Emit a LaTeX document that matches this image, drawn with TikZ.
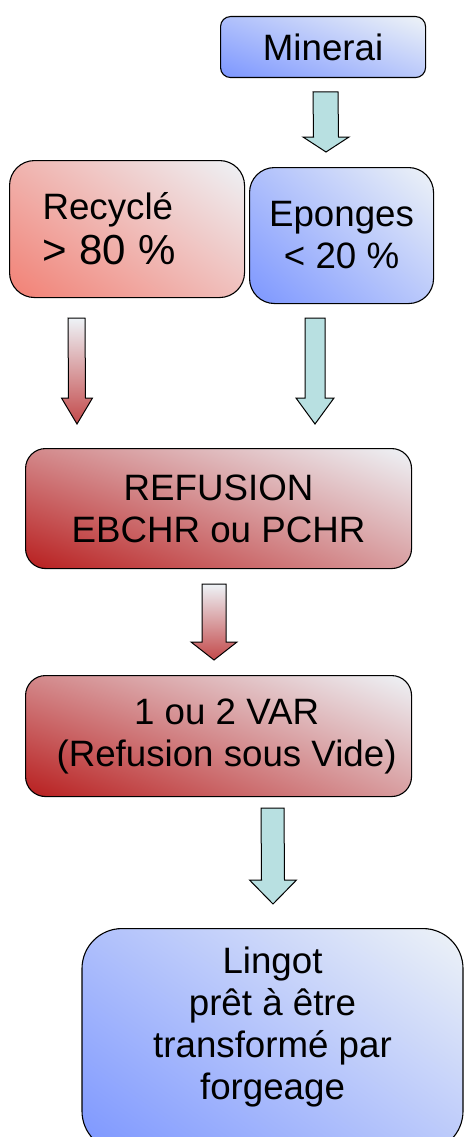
\documentclass[tikz,border=0pt]{standalone}
\usepackage{fontspec}
\setmainfont{Liberation Sans}
\usetikzlibrary{calc,shadings}

\definecolor{bleuF}{RGB}{124,150,255}
\definecolor{bleuC}{RGB}{238,243,247}
\definecolor{roseF}{RGB}{242,128,116}
\definecolor{rougeF}{RGB}{184,30,30}
\definecolor{turquoise}{RGB}{184,224,225}

\tikzset{
  boite/.style={draw=black, line width=1.1pt, rounded corners=#1, align=center,
    inner sep=0pt, font=\fontsize{36.7}{42}\selectfont},
  boite/.default=20pt,
  bleu/.style={lower left=bleuF, upper right=bleuC, upper left=bleuF!55!bleuC, lower right=bleuF!45!bleuC},
  rose/.style={lower left=roseF, upper right=bleuC, upper left=roseF!55!bleuC, lower right=roseF!45!bleuC},
  rouge/.style={lower left=rougeF, upper right=bleuC, upper left=rougeF!50!bleuC, lower right=rougeF!40!bleuC},
  flecheT/.style={draw=black, line width=1pt, fill=turquoise},
  flecheR/.style={draw=black, line width=1pt, top color=bleuC, bottom color=rougeF!80!bleuC}
}

% fleche pleine : style, depart, pointe, demi-corps, demi-tete, longueur tete
\newcommand{\blocarrow}[6]{%
  \draw[#1] ($(#2)+(-#4,0)$) -- ($(#3)+(-#4,-#6)$) -- ($(#3)+(-#5,-#6)$) -- (#3)
    -- ($(#3)+(#5,-#6)$) -- ($(#3)+(#4,-#6)$) -- ($(#2)+(#4,0)$) -- cycle;}

\begin{document}
\begin{tikzpicture}[x=1pt, y=-1pt]
  \useasboundingbox (0,0) rectangle (464,1137);

  \node[boite=10pt, bleu, anchor=north west, minimum width=205pt, minimum height=61pt] (minerai) at (220,16) {Minerai};

  \node[boite=25pt, rose, anchor=north west, minimum width=235pt, minimum height=137pt,
        text width=169pt, align=left] (recycle) at (9,160) {Recyclé\\[3pt]{\fontsize{42}{46}\selectfont > 80 \%}};
  \node[boite=25pt, bleu, anchor=north west, minimum width=184pt, minimum height=136pt] (eponges) at (249,167) {Eponges\\< 20 \%};

  \node[boite, rouge, anchor=north west, minimum width=386pt, minimum height=120pt] (refusion) at (25,448) {REFUSION\\EBCHR ou PCHR};

  \node[boite, rouge, anchor=north west, minimum width=386pt, minimum height=121pt] (var) at (25,675) {\hspace*{16pt}1 ou 2 VAR\\\hspace*{16pt}(Refusion sous Vide)};

  \node[boite=40pt, bleu, anchor=north, minimum width=381pt, inner ysep=18pt, text depth=34pt] (lingot) at (272.5,928)
       {Lingot\\prêt à être\\transformé par\\forgeage};

  % fleches
  \coordinate (m1) at (325.5,92);  \coordinate (m2) at (326,152);
  \coordinate (r1) at (76.5,318);  \coordinate (r2) at (77,424);
  \coordinate (e1) at (315,318);   \coordinate (e2) at (315,424);
  \coordinate (f1) at (214,584);   \coordinate (f2) at (214,660);
  \coordinate (v1) at (272.5,808); \coordinate (v2) at (273,904);

  \blocarrow{flecheT}{m1}{m2}{12.5}{23}{15}
  \blocarrow{flecheR}{r1}{r2}{8.5}{15.5}{26}
  \blocarrow{flecheT}{e1}{e2}{10}{19}{26}
  \blocarrow{flecheR}{f1}{f2}{12}{23}{18}
  \blocarrow{flecheT}{v1}{v2}{11.5}{23.5}{24}

\end{tikzpicture}
\end{document}
